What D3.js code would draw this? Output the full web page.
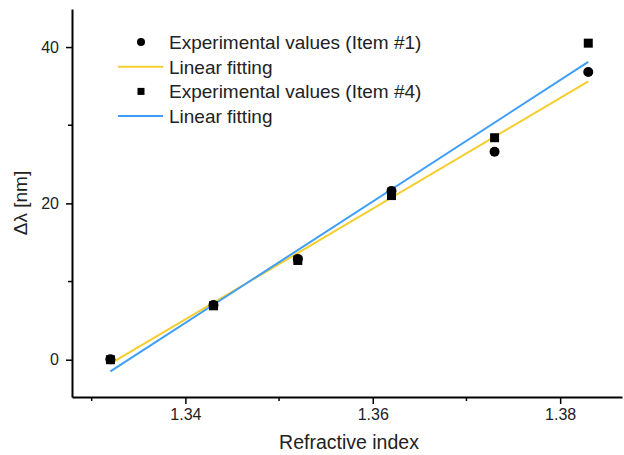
<!DOCTYPE html>
<html>
<head>
<meta charset="utf-8">
<script src="https://cdn.jsdelivr.net/npm/d3@7"></script>
<style>
  body { margin: 0; background: #fff; }
  svg text { font-family: "Liberation Sans", Arial, sans-serif; fill: #222; }
</style>
</head>
<body>
<svg id="chart" width="624" height="455"></svg>
<script>
// refractive index of the samples
var refIndex = [1.332, 1.343, 1.352, 1.362, 1.373, 1.383];
// shift in nm for the two items
var item1 = [0.05, 7.0, 12.9, 21.6, 26.6, 36.8];
var item4 = [0.0, 6.9, 12.7, 21.0, 28.4, 40.5];
// fitted lines, read at both ends
var fitX = [1.332, 1.383];
var fit1 = [-0.5, 35.6];
var fit4 = [-1.5, 38.1];

var xTicks = [1.34, 1.36, 1.38];
var xMinor = [1.33, 1.35, 1.37];
var yTicks = [0, 20, 40];
var yMinor = [10, 30];

var legendItems = [
    {label: "Experimental values (Item #1)", kind: "circle"},
    {label: "Linear fitting", kind: "line", color: "#f5cd2c"},
    {label: "Experimental values (Item #4)", kind: "square"},
    {label: "Linear fitting", kind: "line", color: "#3f9ef8"}
];

var svg = d3.select("#chart");
var plotLeft = 72, plotRight = 622, plotTop = 9, plotBottom = 397;

var x = d3.scaleLinear().domain([1.3279, 1.3866]).range([plotLeft, plotRight]);
var y = d3.scaleLinear().domain([-4.77, 44.87]).range([plotBottom, plotTop]);

// axes
var xAxis = svg.append("g").attr("transform", "translate(0," + plotBottom + ")");
xAxis.call(d3.axisBottom(x).tickValues(xTicks).tickSize(7).tickSizeOuter(0).tickPadding(5)
    .tickFormat(d3.format(".2f")));
xAxis.attr("font-size", 16).attr("font-family", null);
xAxis.selectAll(".tick text").attr("font-size", 16);
xAxis.selectAll(".tick line").attr("stroke-width", 1.5);
xAxis.select(".domain").attr("stroke-width", 2);
xAxis.selectAll(".minor").data(xMinor).enter().append("line")
    .attr("x1", d => x(d)).attr("x2", d => x(d))
    .attr("y1", 0).attr("y2", 4)
    .attr("stroke", "#000").attr("stroke-width", 1.5);

var yAxis = svg.append("g").attr("transform", "translate(" + plotLeft + ",0)");
yAxis.call(d3.axisLeft(y).tickValues(yTicks).tickSize(6).tickSizeOuter(0).tickPadding(7));
yAxis.attr("font-size", 16).attr("font-family", null);
yAxis.selectAll(".tick text").attr("font-size", 16);
yAxis.selectAll(".tick line").attr("stroke-width", 1.5);
yAxis.select(".domain").attr("stroke-width", 2);
yAxis.selectAll(".minor").data(yMinor).enter().append("line")
    .attr("x1", 0).attr("x2", -4)
    .attr("y1", d => y(d)).attr("y2", d => y(d))
    .attr("stroke", "#000").attr("stroke-width", 1.5);

// titles
svg.append("text")
    .attr("x", (plotLeft + plotRight) / 2 + 2).attr("y", 449)
    .attr("text-anchor", "middle")
    .style("font-size", "19.5px")
    .text("Refractive index");
svg.append("text")
    .attr("transform", "translate(27," + (plotTop + plotBottom) / 2 + ") rotate(-90)")
    .attr("text-anchor", "middle")
    .style("font-size", "19px")
    .text("\u0394\u03bb [nm]");

// fitted lines
var line = d3.line().x(d => x(d[0])).y(d => y(d[1]));
svg.append("path")
    .datum(d3.zip(fitX, fit1))
    .attr("d", line).attr("fill", "none")
    .attr("stroke", "#f5cd2c").attr("stroke-width", 2);
svg.append("path")
    .datum(d3.zip(fitX, fit4))
    .attr("d", line).attr("fill", "none")
    .attr("stroke", "#3f9ef8").attr("stroke-width", 2);

// points
svg.selectAll(".sq").data(d3.zip(refIndex, item4)).enter().append("rect")
    .attr("x", d => x(d[0]) - 4.5).attr("y", d => y(d[1]) - 4.5)
    .attr("width", 9).attr("height", 9).attr("fill", "#000");
svg.selectAll(".ci").data(d3.zip(refIndex, item1)).enter().append("circle")
    .attr("cx", d => x(d[0])).attr("cy", d => y(d[1]))
    .attr("r", 5).attr("fill", "#000");

// legend
var leg = svg.append("g");
legendItems.forEach(function(it, i) {
    var yy = 42 + i * 24.7;
    if (it.kind == "circle")
        leg.append("circle").attr("cx", 141).attr("cy", yy).attr("r", 4).attr("fill", "#000");
    else if (it.kind == "square")
        leg.append("rect").attr("x", 137.5).attr("y", yy - 3.5).attr("width", 7).attr("height", 7).attr("fill", "#000");
    else
        leg.append("line").attr("x1", 118).attr("x2", 163).attr("y1", yy).attr("y2", yy)
            .attr("stroke", it.color).attr("stroke-width", 2);
    leg.append("text").attr("x", 169).attr("y", yy).attr("dy", "0.36em")
        .style("font-size", "19px").text(it.label);
});
</script>
</body>
</html>
